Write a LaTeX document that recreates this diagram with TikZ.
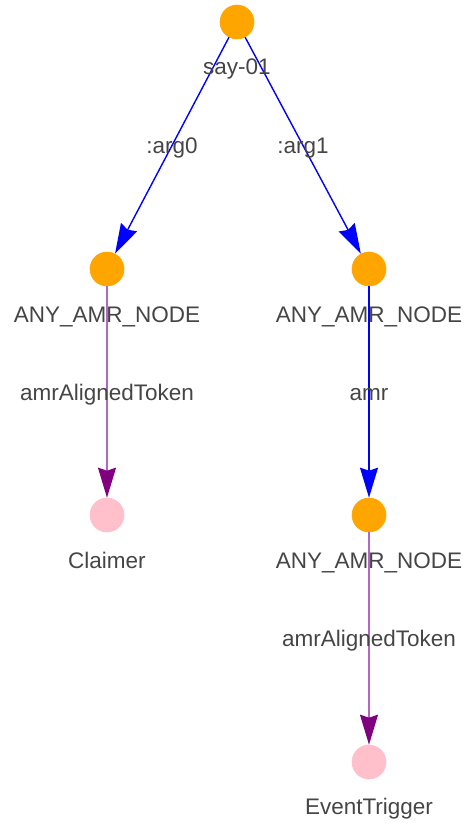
\documentclass[tikz,border=0pt]{standalone}
\usepackage{fontspec}
\setmainfont{Liberation Sans}
\usetikzlibrary{arrows.meta}
\definecolor{nodeorange}{HTML}{FFA500}
\definecolor{nodepink}{HTML}{FFC0CB}
\definecolor{labelgray}{HTML}{454545}
\definecolor{edgepurple}{HTML}{800080}
\definecolor{edgepurplelight}{HTML}{B466C4}
\definecolor{edgeblue}{HTML}{0000FF}
\begin{document}
\begin{tikzpicture}[x=1pt,y=-1pt,
  vertex/.style={circle, inner sep=0pt, minimum size=34pt, fill=#1, draw=#1, line width=0.6pt},
  nodetext/.style={font=\fontsize{22.5}{27}\selectfont, text=labelgray,
                   text height=16pt, text depth=0pt, inner sep=0pt},
  blueedge/.style={draw=edgeblue, line width=1.4pt,
                   -{Stealth[length=30pt, width=18pt, inset=3pt, color=edgeblue]}},
  purpleedge/.style={draw=edgepurplelight, line width=1.4pt,
                   -{Stealth[length=30pt, width=18pt, inset=3pt, color=edgepurple]}}]
\useasboundingbox (0,0) rectangle (466,824);

% graph vertices
\node[vertex=nodeorange] (say)     at (237,22)  {};
\node[vertex=nodeorange] (argA)    at (107,269) {};
\node[vertex=nodeorange] (argB)    at (369,269) {};
\node[vertex=nodepink]   (claimer) at (107,515) {};
\node[vertex=nodeorange] (amrN)    at (369,515) {};
\node[vertex=nodepink]   (event)   at (369,762) {};

% edges with their relation names at the midpoints
\draw[blueedge]   (say)  -- node[nodetext] (lArg0) {:arg0} (argA);
\draw[blueedge]   (say)  -- node[nodetext] (lArg1) {:arg1} (argB);
\draw[purpleedge] (argA) -- node[nodetext] (lTokA) {amrAlignedToken} (claimer);
\draw[blueedge]   (argB) -- node[nodetext] (lAmr)  {amr} (amrN);
\draw[purpleedge] (amrN) -- node[nodetext] (lTokB) {amrAlignedToken} (event);

% vertex captions
\node[nodetext] (tSay)     at (237,67)  {say-01};
\node[nodetext] (tArgA)    at (107,314) {ANY\_AMR\_NODE};
\node[nodetext] (tArgB)    at (369,314) {ANY\_AMR\_NODE};
\node[nodetext] (tClaimer) at (107,560) {Claimer};
\node[nodetext] (tAmrN)    at (369,560) {ANY\_AMR\_NODE};
\node[nodetext] (tEvent)   at (369,806) {EventTrigger};
\end{tikzpicture}
\end{document}
